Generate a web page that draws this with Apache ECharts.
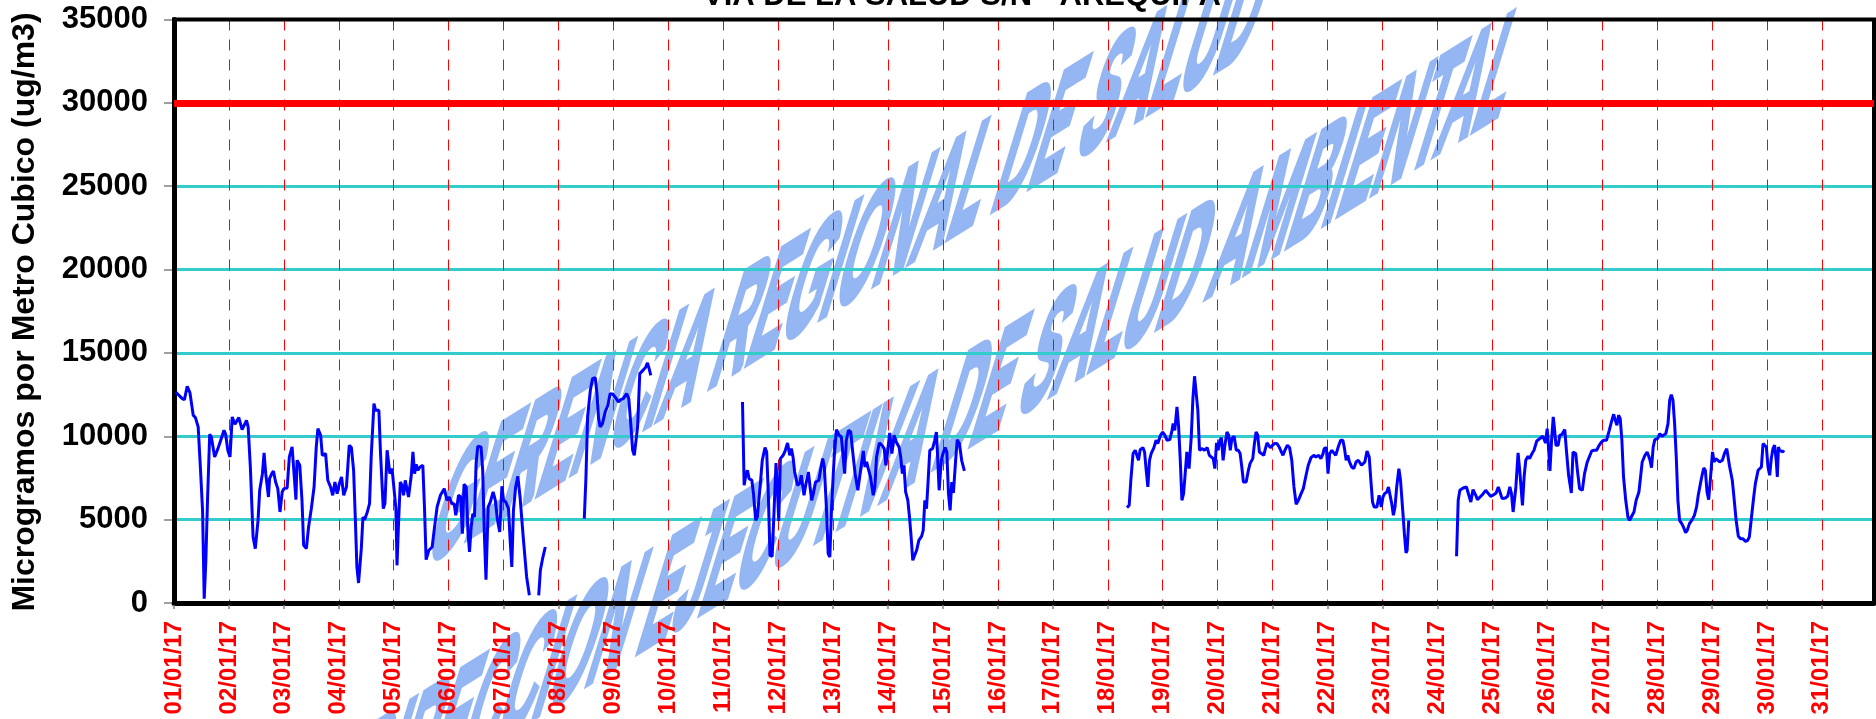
<!DOCTYPE html>
<html>
<head>
<meta charset="utf-8">
<script src="https://cdn.jsdelivr.net/npm/echarts@6/dist/echarts.min.js"></script>
<style>
html,body{margin:0;padding:0;background:#fff;}
#chart{width:1876px;height:719px;}
</style>
</head>
<body>
<div id="chart"></div>
<script>
// ---- data (x = days since 01/01/17 00:00, y = ug/m3) ----
const dayLabels = ['01/01/17','02/01/17','03/01/17','04/01/17','05/01/17','06/01/17','07/01/17','08/01/17','09/01/17','10/01/17',
  '11/01/17','12/01/17','13/01/17','14/01/17','15/01/17','16/01/17','17/01/17','18/01/17','19/01/17','20/01/17',
  '21/01/17','22/01/17','23/01/17','24/01/17','25/01/17','26/01/17','27/01/17','28/01/17','29/01/17','30/01/17','31/01/17'];
const yTicks = [0,5000,10000,15000,20000,25000,30000,35000];
const limitValue = 30000;
const chartTitle = 'VIA DE LA SALUD S/N - AREQUIPA';
const yTitle = 'Microgramos por Metro Cubico (ug/m3)';
const watermark1 = 'GERENCIA REGIONAL DE SALUD';
const watermark2 = 'DIRECCION EJECUTIVA DE SALUD AMBIENTAL';

const seg1 = [[0.03,12660],[0.06,12720],[0.15,12260],[0.19,12200],[0.24,13000],[0.29,12620],[0.32,12560],[0.35,11260],[0.39,11120],[0.44,10560],
[0.48,8160],[0.52,5560],[0.55,260],[0.58,2560],[0.61,6160],[0.65,10120],[0.68,9960],[0.74,8760],[0.80,9260],[0.84,9660],[0.87,9660],[0.91,10360],
[0.94,10120],[0.98,9160],[1.02,8760],[1.06,11160],[1.11,10720],[1.18,11120],[1.24,10400],[1.32,10960],[1.35,10560],[1.39,8160],[1.44,3960],
[1.48,3260],[1.53,4960],[1.56,6760],[1.61,7760],[1.64,9000],[1.67,7760],[1.72,6360],[1.74,7460],[1.78,7760],[1.81,7920],[1.85,7260],[1.89,6860],
[1.93,5460],[1.97,6660],[2.00,6860],[2.06,6900],[2.10,8760],[2.15,9360],[2.18,9460],[2.22,6200],[2.24,8560],[2.29,8260],[2.33,6160],[2.36,3460],
[2.41,3260],[2.45,4560],[2.50,5660],[2.55,6960],[2.59,9360],[2.62,10460],[2.67,10060],[2.70,8860],[2.76,8960],[2.80,7360],[2.85,6960],[2.89,6460],
[2.93,7260],[2.97,6560],[3.01,7160],[3.05,7560],[3.09,6460],[3.14,6960],[3.19,9460],[3.23,9320],[3.27,7960],[3.30,5160],[3.33,2160],[3.36,1200],
[3.41,3260],[3.44,5160],[3.47,5000],[3.52,5460],[3.56,5960],[3.59,8760],[3.64,11960],[3.67,11560],[3.70,11660],[3.73,11560],[3.76,8960],[3.81,5660],
[3.84,5960],[3.88,9160],[3.93,7760],[3.97,8060],[4.00,7960],[4.04,5660],[4.06,2260],[4.09,4960],[4.12,7260],[4.15,7060],[4.18,6460],[4.21,7360],
[4.24,7460],[4.27,6360],[4.32,7660],[4.35,9060],[4.38,7760],[4.41,8320],[4.44,7960],[4.48,8160],[4.53,8260],[4.56,5760],[4.59,2600],[4.64,3160],
[4.70,3360],[4.74,4460],[4.79,5760],[4.85,6460],[4.92,6860],[4.97,6160],[5.01,6360],[5.06,5960],[5.10,5960],[5.13,5260],[5.18,6460],[5.22,6360],
[5.25,4160],[5.28,7120],[5.32,6960],[5.35,4360],[5.38,3060],[5.41,4560],[5.44,5360],[5.47,5160],[5.50,8360],[5.53,9400],[5.59,9360],[5.62,7960],
[5.65,4160],[5.68,1400],[5.72,5760],[5.76,6060],[5.81,6660],[5.85,6160],[5.89,4960],[5.93,4260],[5.97,7000],[6.00,6160],[6.04,6060],[6.09,5660],
[6.12,3760],[6.15,2160],[6.18,5560],[6.22,6960],[6.26,7600],[6.30,6360],[6.36,3860],[6.42,1560],[6.47,460]];
const seg2 = [[6.64,460],[6.67,1960],[6.71,2660],[6.76,3360]];
const seg3 = [[7.47,5060],[7.50,7560],[7.53,11160],[7.58,12760],[7.62,13460],[7.67,13520],[7.70,12560],[7.73,11060],[7.76,10560],[7.80,10760],
[7.85,11460],[7.90,11860],[7.94,12560],[7.99,12520],[8.04,12320],[8.09,12060],[8.13,12200],[8.18,12260],[8.24,12560],[8.28,12260],[8.32,10560],
[8.35,9160],[8.38,8860],[8.41,8760],[8.44,10560],[8.48,13760],[8.55,14000],[8.59,14160],[8.62,14400],[8.65,14060],[8.68,13660]];
const seg4 = [[10.35,12060],[10.38,7060],[10.41,7660],[10.44,7960],[10.47,7460],[10.52,7360],[10.55,6560],[10.59,4960],[10.62,5160],[10.67,6960],
[10.71,8560],[10.76,9320],[10.79,9060],[10.82,6560],[10.85,2860],[10.89,2800],[10.92,5160],[10.96,8400],[10.99,6560],[11.01,4920],[11.04,8660],
[11.09,8860],[11.13,9160],[11.17,9600],[11.21,8860],[11.24,9260],[11.27,8760],[11.30,7860],[11.35,7060],[11.39,7160],[11.42,7660],[11.47,6460],
[11.50,7060],[11.55,7860],[11.58,6960],[11.61,6160],[11.64,6560],[11.68,7260],[11.74,7360],[11.77,7960],[11.81,8660],[11.84,8160],[11.88,5560],
[11.91,2960],[11.94,2760],[11.97,5560],[12.00,7560],[12.02,8760],[12.06,10400],[12.11,10060],[12.15,9960],[12.18,9960],[12.21,7760],[12.24,9760],
[12.28,10360],[12.32,10260],[12.36,8960],[12.40,7760],[12.45,6760],[12.50,7960],[12.55,9120],[12.58,8160],[12.61,8460],[12.64,8060],[12.68,7560],
[12.73,6460],[12.76,6960],[12.79,8760],[12.84,9600],[12.89,9460],[12.93,9260],[12.96,8260],[12.99,9060],[13.03,10200],[13.07,8960],[13.11,10060],
[13.15,9660],[13.20,9360],[13.23,8760],[13.26,7760],[13.29,8260],[13.32,6660],[13.36,6160],[13.39,5160],[13.42,3960],[13.45,2560],[13.48,2460],
[13.52,3160],[13.56,3760],[13.61,4000],[13.64,4360],[13.67,6160],[13.70,5660],[13.73,7360],[13.76,9160],[13.81,9260],[13.85,9760],[13.88,10260],
[13.90,8960],[13.93,6760],[13.97,8560],[14.00,8960],[14.04,9320],[14.07,9060],[14.10,6560],[14.13,5560],[14.16,7260],[14.19,6600],[14.23,8560],
[14.26,9800],[14.30,9560],[14.34,8560],[14.39,7920]];
const seg5 = [[17.35,5720],[17.39,5860],[17.42,7360],[17.46,8960],[17.50,9160],[17.53,9060],[17.56,8560],[17.59,9200],[17.64,9320],[17.67,9060],
[17.70,7960],[17.73,6960],[17.76,8560],[17.79,8960],[17.84,9320],[17.88,9760],[17.91,9560],[17.96,10060],[18.00,10260],[18.04,10060],[18.08,9760],
[18.13,9800],[18.17,10360],[18.19,10760],[18.22,10360],[18.26,11760],[18.29,10560],[18.32,8560],[18.35,6160],[18.38,6560],[18.41,7760],[18.44,9060],
[18.46,8560],[18.48,8060],[18.52,9960],[18.55,12260],[18.58,13600],[18.61,13560],[18.64,11560],[18.67,9160],[18.72,9260],[18.76,9160],[18.81,9320],
[18.85,8860],[18.88,8960],[18.92,8660],[18.95,8060],[18.98,9600],[19.01,9160],[19.04,9760],[19.07,9900],[19.10,8560],[19.13,9400],[19.17,10260],
[19.20,10060],[19.23,9160],[19.26,9860],[19.30,10000],[19.34,9160],[19.38,9160],[19.41,8960],[19.44,8160],[19.47,7260],[19.52,7260],[19.56,7960],
[19.59,8360],[19.64,8660],[19.67,9560],[19.70,10260],[19.73,10060],[19.76,9060],[19.79,8960],[19.84,8860],[19.87,9260],[19.90,9600],[19.93,9460],
[19.96,9320],[19.99,9360],[20.03,9560],[20.08,9560],[20.12,9360],[20.16,9060],[20.19,8860],[20.23,9200],[20.27,9460],[20.31,9320],[20.35,8560],
[20.39,6960],[20.43,5920],[20.47,6160],[20.52,6560],[20.56,6860],[20.61,7660],[20.65,8260],[20.70,8720],[20.75,8860],[20.79,8760],[20.84,8860],
[20.88,8660],[20.92,8960],[20.94,9260],[20.98,9320],[21.01,7760],[21.04,8960],[21.08,9160],[21.11,9060],[21.15,8860],[21.20,9400],[21.24,9760],
[21.28,9760],[21.31,9260],[21.34,8560],[21.37,8860],[21.40,8460],[21.44,8160],[21.48,8060],[21.52,8460],[21.56,8560],[21.59,8660],[21.62,8260],
[21.65,8260],[21.68,8460],[21.72,9120],[21.76,8760],[21.79,7360],[21.82,6060],[21.85,5760],[21.90,5760],[21.94,6460],[21.98,5760],[22.01,6360],
[22.04,6560],[22.08,6660],[22.11,6960],[22.14,6860],[22.17,5960],[22.20,5260],[22.23,5760],[22.26,6960],[22.30,8060],[22.33,7360],[22.37,5560],
[22.40,4160],[22.43,3000],[22.45,3160],[22.48,4960]];
const seg6 = [[23.35,2800],[23.38,6160],[23.41,6760],[23.47,6900],[23.53,6960],[23.56,6860],[23.61,6060],[23.65,6800],[23.70,6460],[23.73,6200],
[23.81,6460],[23.88,6760],[23.93,6560],[23.97,6400],[24.03,6500],[24.07,6600],[24.11,6960],[24.14,6660],[24.18,6260],[24.24,6300],[24.28,6400],
[24.32,6960],[24.35,6560],[24.38,5460],[24.40,5400],[24.43,6960],[24.47,9000],[24.50,7960],[24.55,5860],[24.58,7560],[24.61,8560],[24.65,8800],
[24.68,8660],[24.73,9000],[24.76,9160],[24.81,9720],[24.85,9820],[24.92,10000],[24.95,9760],[24.97,9600],[25.00,10460],[25.02,9560],[25.05,7920],
[25.08,9760],[25.11,11160],[25.13,10560],[25.16,9460],[25.20,9460],[25.23,10060],[25.27,10120],[25.32,10400],[25.35,9160],[25.39,7660],[25.44,6600],
[25.47,9060],[25.52,8960],[25.55,7960],[25.59,6860],[25.64,6760],[25.68,7760],[25.73,8460],[25.76,8460],[25.81,9120],[25.85,9160],[25.90,9160],
[25.94,9420],[25.99,9660],[26.03,9760],[26.08,9760],[26.13,10360],[26.17,10860],[26.21,11320],[26.24,10960],[26.27,10660],[26.30,11260],[26.33,11060],
[26.36,9760],[26.39,7560],[26.43,6160],[26.47,5160],[26.50,4960],[26.53,4960],[26.58,5460],[26.62,6160],[26.67,6660],[26.70,7560],[26.73,8460],
[26.78,8860],[26.82,9060],[26.85,9160],[26.87,8600],[26.90,8120],[26.93,9360],[26.96,9800],[27.01,9860],[27.05,10160],[27.09,10000],[27.12,9960],
[27.16,10160],[27.20,10760],[27.23,12160],[27.26,12500],[27.29,12160],[27.32,10760],[27.35,8760],[27.38,6160],[27.41,4960],[27.45,4760],[27.48,4560],
[27.52,4220],[27.55,4360],[27.59,4760],[27.64,5000],[27.68,5260],[27.72,5760],[27.75,6460],[27.79,7160],[27.82,7660],[27.85,8100],[27.88,7960],
[27.91,6660],[27.94,6200],[27.97,7360],[28.01,9060],[28.04,8460],[28.07,8660],[28.10,8560],[28.14,8460],[28.19,8560],[28.23,9000],[28.27,9260],
[28.32,8200],[28.37,7360],[28.40,6360],[28.44,4960],[28.48,4000],[28.52,3860],[28.56,3860],[28.61,3700],[28.65,3760],[28.68,3960],[28.72,5160],
[28.76,6360],[28.79,7160],[28.84,7960],[28.87,8060],[28.90,8160],[28.93,9560],[28.96,9660],[28.99,9360],[29.02,8160],[29.05,7660],[29.08,8660],
[29.11,9260],[29.14,9460],[29.17,8560],[29.19,7560],[29.21,9360],[29.23,9160],[29.26,9260],[29.29,9060],[29.31,9160]];
const segments = [seg1, seg2, seg3, seg4, seg5, seg6];

// ---- watermark helper: arbitrary affine (baseline angle, letter lean, width/height stretch) via nested groups ----
function watermarkText(text, cx, cy, fontSize, betaDeg, gammaDeg, w, h, strokeW) {
  const b = betaDeg * Math.PI / 180, g = gammaDeg * Math.PI / 180;
  const m00 = w * Math.cos(b), m10 = -w * Math.sin(b), m01 = -h * Math.cos(g), m11 = h * Math.sin(g);
  const E = (m00 + m11) / 2, F = (m00 - m11) / 2, G = (m10 + m01) / 2, H = (m10 - m01) / 2;
  const Q = Math.hypot(E, H), R = Math.hypot(F, G);
  const sx = Q + R, sy = Q - R;
  const a1 = Math.atan2(G, F), a2 = Math.atan2(H, E);
  const theta = (a2 - a1) / 2, phi = (a2 + a1) / 2;
  const col = '#94b6f2';
  return {
    type: 'group', x: cx, y: cy, rotation: -phi, z: -5, silent: true,
    children: [{
      type: 'group', scaleX: sx, scaleY: sy, z: -5,
      children: [{
        type: 'text', rotation: -theta, z: -5, silent: true,
        style: {
          text: text, fontSize: fontSize, fontWeight: 'bold', fontFamily: 'Liberation Sans, Arial, sans-serif',
          fill: col, stroke: col, lineWidth: strokeW, lineJoin: 'round',
          align: 'center', verticalAlign: 'middle', textAlign: 'center', textVerticalAlign: 'middle'
        }
      }]
    }]
  };
}

const chart = echarts.init(document.getElementById('chart'), null, {renderer: 'canvas'});
const FONT = 'Liberation Sans, Arial, sans-serif';

const series = segments.map((seg, i) => ({
  type: 'line',
  data: seg,
  showSymbol: false,
  symbol: 'none',
  lineStyle: {color: '#0000FF', width: 3},
  z: 3,
  markLine: i === 0 ? {
    silent: true, symbol: 'none', animation: false,
    label: {show: false},
    lineStyle: {color: '#FF0000', width: 7, type: 'solid'},
    data: [{yAxis: limitValue}]
  } : undefined
}));

chart.setOption({
  animation: false,
  backgroundColor: '#ffffff',
  grid: {left: 174, right: 2, top: 19.5, bottom: 116, show: true, borderColor: '#000', borderWidth: 4, backgroundColor: 'transparent', z: 1},
  xAxis: {
    type: 'value', min: 0, max: 30.95, interval: 1,
    axisLine: {show: true, onZero: false, lineStyle: {color: '#000', width: 5}},
    axisTick: {show: true, length: 6, lineStyle: {color: '#808080', width: 1.5}},
    axisLabel: {
      rotate: 90, margin: 18, color: '#FF0000', fontSize: 24, fontWeight: 'bold', fontFamily: FONT,
      showMaxLabel: false,
      formatter: v => (Number.isInteger(v) && dayLabels[v] !== undefined) ? dayLabels[v] : ''
    },
    splitLine: {show: true, lineStyle: {color: '#FF0000', width: 1, type: [11, 9]}}
  },
  yAxis: {
    type: 'value', min: yTicks[0], max: yTicks[yTicks.length - 1], interval: yTicks[1] - yTicks[0],
    axisLine: {show: true, lineStyle: {color: '#000', width: 5}},
    axisTick: {show: true, length: 10, lineStyle: {color: '#808080', width: 1.5}},
    axisLabel: {margin: 26, color: '#000', fontSize: 31, fontWeight: 'bold', fontFamily: FONT, formatter: v => String(v)},
    splitLine: {show: true, lineStyle: {color: '#33CCCC', width: 3}}
  },
  graphic: [
    watermarkText(watermark1, 850, 262, 60, 32, 73, 1.0, 2.9, 3),
    watermarkText(watermark2, 931, 432, 60, 32, 73, 1.0, 2.9, 3),
    {type: 'text', x: 962, y: -4, z: 10, style: {text: chartTitle, fontSize: 31, fontWeight: 'bold', fontFamily: FONT, fill: '#000', align: 'center', verticalAlign: 'middle', textAlign: 'center', textVerticalAlign: 'middle'}},
    {type: 'text', x: 25, y: 312, rotation: Math.PI / 2, z: 10, style: {text: yTitle, fontSize: 32, fontWeight: 'bold', fontFamily: FONT, fill: '#000', align: 'center', verticalAlign: 'middle', textAlign: 'center', textVerticalAlign: 'middle'}}
  ],
  series: series
});
</script>
</body>
</html>
